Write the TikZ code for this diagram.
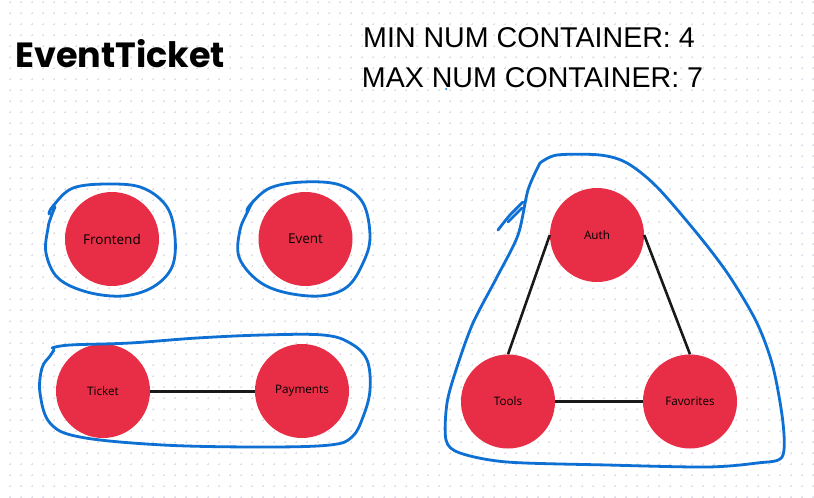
\documentclass[tikz,border=0pt]{standalone}
\usepackage{fontspec}
\setmainfont{Open Sans}
\newfontfamily\titlefont{Poppins}
\newfontfamily\headfont{Liberation Sans}
\definecolor{svcred}{RGB}{232,46,70}
\definecolor{penblue}{RGB}{14,112,210}
\definecolor{gridc}{RGB}{222,222,232}
\tikzset{
  svc/.style={circle, fill=svcred, draw=none, minimum size=94pt, inner sep=0pt, text=black},
  biglabel/.style={font=\fontsize{13.5}{15}\selectfont},
  smalllabel/.style={font=\fontsize{11.7}{13}\selectfont},
  link/.style={draw=black!90, line width=3pt},
  pen/.style={draw=penblue, line width=2.8pt, line cap=round, line join=round},
}
\begin{document}
\begin{tikzpicture}[x=1pt,y=-1pt]
\useasboundingbox (0,0) rectangle (814,498);
\fill[white] (0,0) rectangle (814,498);
% dot grid
\draw[gridc, line width=0.8pt]
  \foreach \gx in {-1,10,...,813} { \foreach \gy in {2,13,...,497} {
    (\gx-1.3,\gy) -- (\gx+1.3,\gy) (\gx,\gy-1.3) -- (\gx,\gy+1.3) } };
% titles
\node[anchor=base west, inner sep=0pt, font=\titlefont\bfseries\fontsize{35}{40}\selectfont] (title) at (15,67) {EventTicket};
\node[anchor=base, inner sep=0pt, font=\headfont\fontsize{28.6}{32}\selectfont] (minc) at (529,47) {MIN NUM CONTAINER: 4};
\node[anchor=base, inner sep=0pt, font=\headfont\fontsize{28.6}{32}\selectfont] (maxc) at (532.5,87) {MAX NUM CONTAINER: 7};
\fill[penblue] (446,89) circle (1pt);
% services
\node[svc, biglabel] (frontend) at (112,239) {Frontend};
\node[svc, biglabel] (event) at (305.5,239) {Event};
\node[svc, smalllabel] (ticket) at (103,391) {Ticket};
\node[svc, smalllabel] (payments) at (302,391) {Payments};
\node[svc, smalllabel] (auth) at (597,235) {Auth};
\node[svc, smalllabel] (tools) at (508,401.5) {Tools};
\node[svc, smalllabel] (favorites) at (690,401.5) {Favorites};
% links
\draw[link] (ticket) -- (payments);
\draw[link] (tools) -- (favorites);
\draw[link, line width=2.6pt] (auth.west) -- (tools.north);
\draw[link, line width=2.6pt] (auth.east) -- (favorites.north);
% hand-drawn outlines
\draw[pen] plot[smooth, tension=0.6] coordinates {(55,207) (51,217) (48,228) (46,253) (58,278) (87,292) (123,296) (153,287) (172,267) (175,237) (167,207) (143,188) (110,184) (73,188) (53,206) (49,214)};
\draw[pen] plot[smooth, tension=0.6] coordinates {(252,203) (248,211) (240,230) (239,257) (257,280) (283,292) (320,296) (347,287) (363,263) (370,237) (363,203) (340,185) (303,182) (270,188) (250,205) (247,212)};
\draw[pen] plot[smooth, tension=0.6] coordinates {(54,350) (50,356) (42,368) (40,393) (50,423) (80,437) (163,445) (263,447) (330,445) (352,437) (363,417) (370,390) (367,360) (350,343) (323,335) (263,335) (197,338) (130,343) (70,345) (52,348)};
\draw[pen] plot[smooth, tension=0.55] coordinates {(498,230) (510,215) (523,202)};
\draw[pen] plot[smooth, tension=0.55] coordinates {(508,222) (522,208)};
\draw[pen] plot[smooth, tension=0.5] coordinates {(540,163) (557,155) (600,155) (627,163) (657,187) (700,237) (730,277) (757,323) (773,367) (783,423) (782,457) (757,463) (707,467) (607,465) (507,462) (460,453) (446,440) (447,403) (457,367) (473,323) (497,277) (518,235) (528,190) (540,163)};
\end{tikzpicture}
\end{document}
